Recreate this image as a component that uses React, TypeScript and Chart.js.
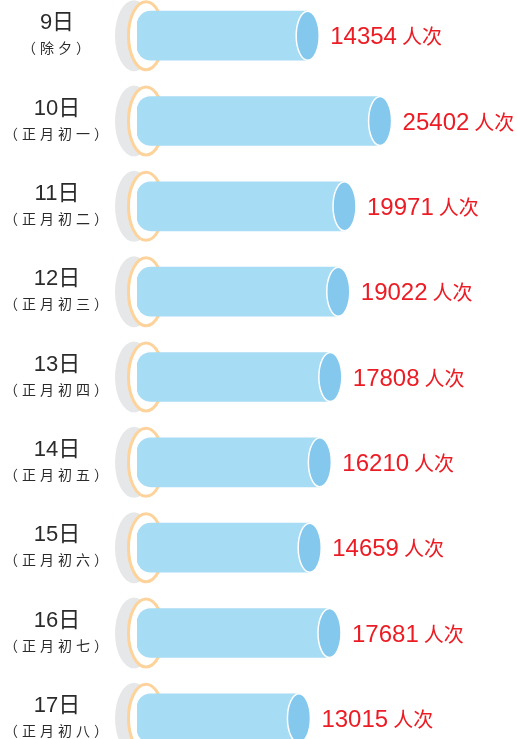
import { useEffect, useRef } from 'react';
import { Chart, registerables } from 'chart.js';

Chart.register(...registerables);

// ---- data ----
const DAYS = ['9日', '10日', '11日', '12日', '13日', '14日', '15日', '16日', '17日'];
const LUNAR = ['（除夕）', '（正月初一）', '（正月初二）', '（正月初三）', '（正月初四）', '（正月初五）', '（正月初六）', '（正月初七）', '（正月初八）'];
const VISITORS = [14354, 25402, 19971, 19022, 17808, 16210, 14659, 17681, 13015];
const UNIT = '人次';
const X_MIN = -11700;
const X_MAX = 46300;

const BODY = '#a6dcf4';
const CAP = '#84c8ee';
const RING = '#fdd39b';
const DISC = '#e6e7e8';
const RED = '#ec1c24';
const INK = '#2b2b2b';

const cylinderPlugin = {
  id: 'cylinder',
  beforeDatasetsDraw(chart: any) {
    const ctx = chart.ctx;
    const meta = chart.getDatasetMeta(0);
    meta.data.forEach((bar: any) => {
      const { y, base } = bar.getProps(['y', 'base'], true);
      ctx.save();
      ctx.fillStyle = DISC;
      ctx.beginPath();
      ctx.ellipse(base - 3, y, 19, 35.5, 0, 0, Math.PI * 2);
      ctx.fill();
      ctx.fillStyle = '#ffffff';
      ctx.strokeStyle = RING;
      ctx.lineWidth = 3;
      ctx.beginPath();
      ctx.ellipse(base + 9, y, 17.5, 34, 0, 0, Math.PI * 2);
      ctx.fill();
      ctx.stroke();
      ctx.restore();
    });
  },
  afterDatasetsDraw(chart: any) {
    const ctx = chart.ctx;
    const meta = chart.getDatasetMeta(0);
    meta.data.forEach((bar: any, i: number) => {
      const { x, y, height } = bar.getProps(['x', 'y', 'height'], true);
      const ry = height / 2;
      const rx = 11.5;
      ctx.save();
      // end cap
      ctx.fillStyle = CAP;
      ctx.strokeStyle = '#ffffff';
      ctx.lineWidth = 1.5;
      ctx.beginPath();
      ctx.ellipse(x, y, rx, ry, 0, 0, Math.PI * 2);
      ctx.fill();
      ctx.stroke();

      // value label
      const num = String(VISITORS[i]);
      ctx.fillStyle = RED;
      ctx.textAlign = 'left';
      ctx.textBaseline = 'alphabetic';
      ctx.font = '24px "Liberation Sans", Arial, sans-serif';
      const tx = x + rx + 11;
      ctx.fillText(num, tx, y + 8.8);
      const w = ctx.measureText(num).width;
      ctx.font = '20px "Noto Sans CJK SC", sans-serif';
      ctx.textBaseline = 'middle';
      ctx.fillText(UNIT, tx + w + 5, y + 1);

      // category labels
      ctx.fillStyle = INK;
      ctx.textAlign = 'center';
      ctx.textBaseline = 'middle';
      ctx.font = '22px "Liberation Sans", "Noto Sans CJK SC", sans-serif';
      ctx.fillText(DAYS[i], 57, y - 12.5);
      ctx.font = '14px "Noto Sans CJK SC", sans-serif';
      (ctx as any).letterSpacing = '4px';
      ctx.fillText(LUNAR[i], 58, y + 12.5);
      (ctx as any).letterSpacing = '0px';
      ctx.restore();
    });
  },
};

export default function App() {
  const ref = useRef<HTMLCanvasElement | null>(null);

  useEffect(() => {
    if (!ref.current) return;
    const chart = new Chart(ref.current, {
      type: 'bar',
      data: {
        labels: DAYS,
        datasets: [
          {
            data: VISITORS,
            base: X_MIN,
            backgroundColor: BODY,
            borderWidth: 0,
            borderSkipped: false,
            borderRadius: { topLeft: 14, bottomLeft: 14, topRight: 0, bottomRight: 0 },
            barThickness: 49,
          } as any,
        ],
      },
      options: {
        indexAxis: 'y',
        responsive: false,
        animation: false,
        devicePixelRatio: 1,
        layout: { padding: { left: 137, right: 0, top: 0, bottom: 0 } },
        plugins: {
          legend: { display: false },
          tooltip: { enabled: false },
        },
        scales: {
          x: { type: 'linear', min: X_MIN, max: X_MAX, display: false },
          y: { type: 'category', display: false, offset: true },
        },
      },
      plugins: [cylinderPlugin],
    });
    return () => chart.destroy();
  }, []);

  return (
    <div
      style={{
        position: 'fixed',
        left: 0,
        top: 0,
        width: 517,
        height: 739,
        overflow: 'hidden',
        background: '#ffffff',
      }}
    >
      <canvas
        ref={ref}
        width={517}
        height={768}
        style={{ position: 'absolute', left: 0, top: -7, width: 517, height: 768 }}
      />
    </div>
  );
}
